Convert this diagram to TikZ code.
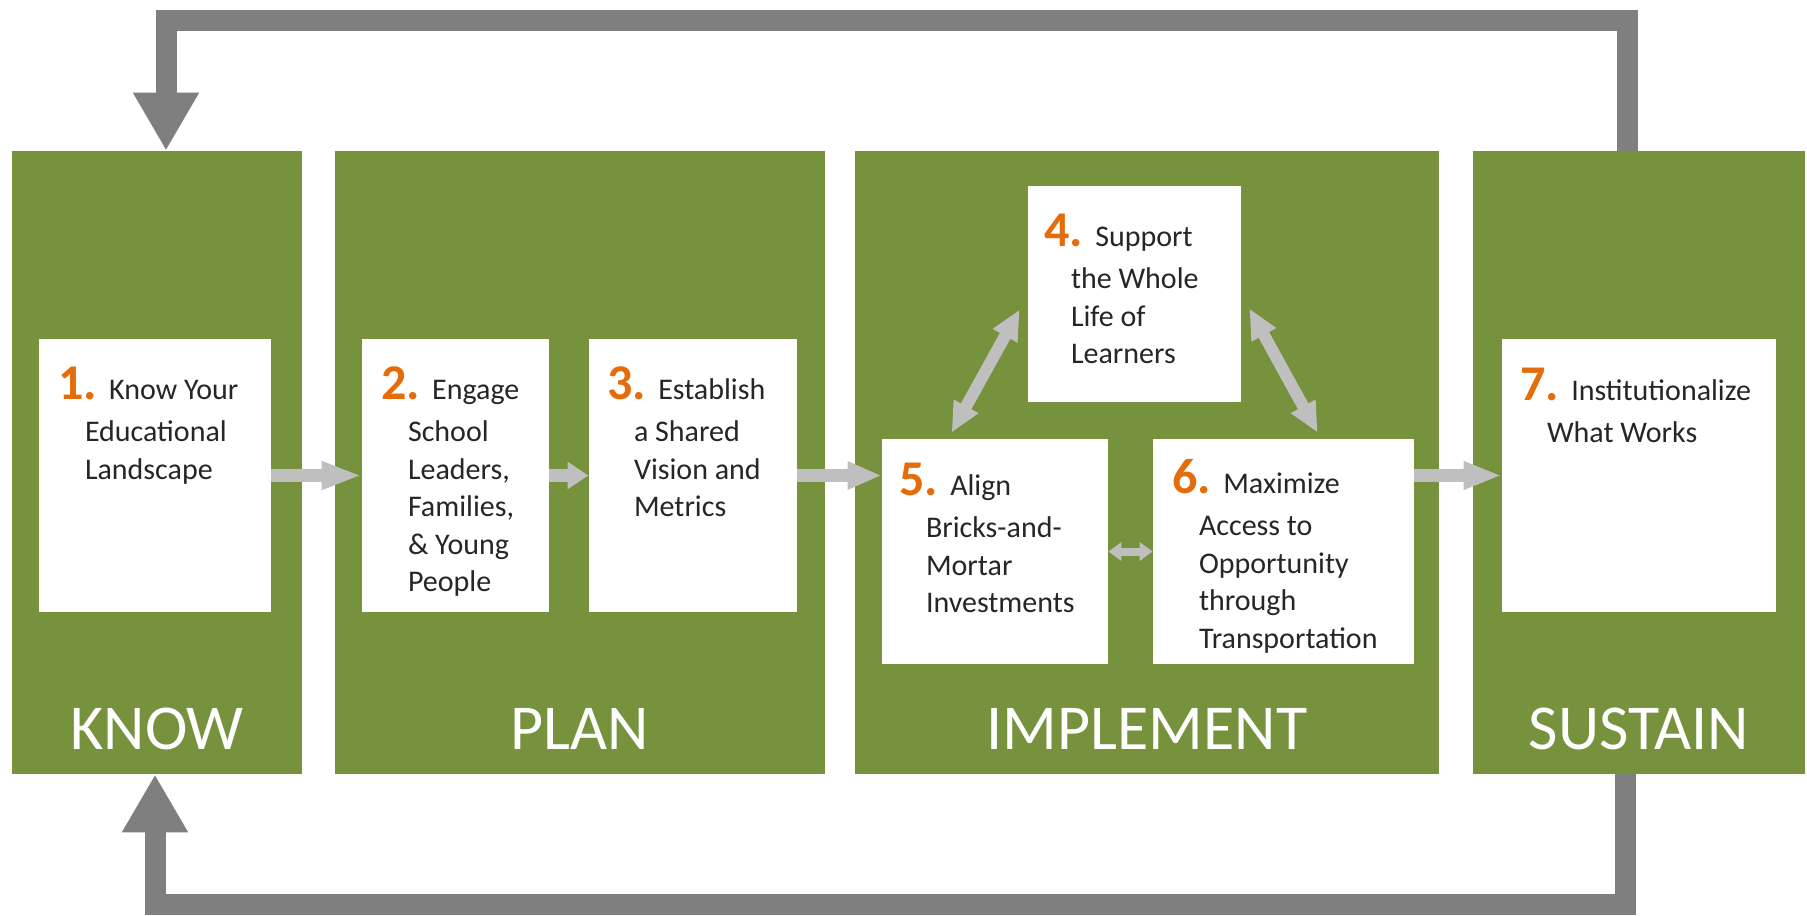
\documentclass[tikz,border=0pt]{standalone}
\usepackage{fontspec}
\setmainfont{Carlito}
\usepackage{tikz}
\usetikzlibrary{arrows.meta}
\definecolor{mgreen}{RGB}{118, 146, 60}
\definecolor{morange}{RGB}{228, 108, 10}
\definecolor{mgray}{RGB}{127, 127, 127}
\definecolor{mlight}{RGB}{191, 191, 191}
\definecolor{mtext}{RGB}{38, 38, 38}
\tikzset{panel/.style = {fill = mgreen, inner sep = 0}}
\tikzset{card/.style = {fill = white, inner sep = 0}}
\tikzset{phase/.style = {text = white, font = \fontsize{32pt}{32pt}\selectfont, inner sep = 0, anchor = base}}
\tikzset{steptext/.style = {text = mtext, font = \fontsize{15pt}{18.75pt}\selectfont, align = left, inner sep = 0, anchor = base west}}
\tikzset{flow/.style = {draw = mlight, line width = 6.5pt, -{Triangle[width = 13pt, length = #1]}}, flow/.default = 19pt}
\tikzset{twoway/.style = {draw = mlight, line width = 6pt, {Triangle[width = 13pt, length = 15pt]}-{Triangle[width = 13pt, length = 15pt]}}}
\tikzset{smallway/.style = {draw = mlight, line width = 4pt, {Triangle[width = 9pt, length = 6.5pt]}-{Triangle[width = 9pt, length = 6.5pt]}}}
\tikzset{fback/.style = {draw = mgray, line width = 10.5pt, line join = miter, -{Triangle[width = 31pt, length = 29pt]}}}
\newcommand{\stepno}[1]{\hspace*{-2pt}{\fontsize{25pt}{25pt}\selectfont\bfseries\color{morange}#1}\hspace{1.75pt}}
\newcommand{\ind}{\hspace*{11.5pt}}

\begin{document}
\begin{tikzpicture}[x = 0.5pt, y = -0.5pt]
           \fill [white] (0, 0) rectangle (1807, 915);
           \useasboundingbox (0, 0) rectangle (1807, 915);

           \node [panel, minimum width = 145pt, minimum height = 311.5pt] (know) at (157, 462.5) {};
           \node [panel, minimum width = 245pt, minimum height = 311.5pt] (plan) at (580, 462.5) {};
           \node [panel, minimum width = 292pt, minimum height = 311.5pt] (impl) at (1147, 462.5) {};
           \node [panel, minimum width = 166pt, minimum height = 311.5pt] (sust) at (1639, 462.5) {};

           \node [phase] (knowlbl) at (157, 749) {KNOW};
           \node [phase] (planlbl) at (580, 749) {PLAN};
           \node [phase] (impllbl) at (1147, 749) {IMPLEMENT};
           \node [phase] (sustlbl) at (1639, 749) {SUSTAIN};

           \coordinate (tl) at (166, 20.5);
           \coordinate (tr) at (1627, 20.5);
           \coordinate (bl) at (155, 904.5);
           \coordinate (br) at (1625, 904.5);
           \draw [fback] (sust.north -| tr) -- (tr) -- (tl) -- (know.north -| tl);
           \draw [fback] (sust.south -| br) -- (br) -- (bl) -- (know.south -| bl);

           \node [card, minimum width = 116pt, minimum height = 136.5pt] (box1) at (155, 475.5) {};
           \node [card, minimum width = 93.5pt, minimum height = 136.5pt] (box2) at (455.5, 475.5) {};
           \node [card, minimum width = 104pt, minimum height = 136.5pt] (box3) at (693, 475.5) {};
           \node [card, minimum width = 106.5pt, minimum height = 108pt] (box4) at (1134.5, 294) {};
           \node [card, minimum width = 113pt, minimum height = 112.5pt] (box5) at (995, 551.5) {};
           \node [card, minimum width = 130.5pt, minimum height = 112.5pt] (box6) at (1283.5, 551.5) {};
           \node [card, minimum width = 137pt, minimum height = 136.5pt] (box7) at (1639, 475.5) {};

           \draw [flow = 20pt] (box1) -- (box2);
           \draw [flow = 10.5pt] (box2) -- (box3);
           \draw [flow = 17pt] (box3.east) -- (box3.east -| box5.west);
           \draw [flow = 19pt] (box7.west -| box6.east) -- (box7.west);
           \draw [smallway] (box5) -- (box6);
           \draw [twoway] ([xshift = 35pt, yshift = 3pt] box5.north west) -- ([xshift = -4pt, yshift = -62pt] box4.north west);
           \draw [twoway] ([xshift = 4pt, yshift = -61.5pt] box4.north east) -- ([xshift = 82.5pt, yshift = 3pt] box6.north west);

           \node [steptext] (txt1) at ([xshift = 11.5pt, yshift = -70.25pt] box1.north west)
                {\stepno{1.} Know Your\\[2.25pt]\ind Educational\\\ind Landscape};
           \node [steptext] (txt2) at ([xshift = 11.5pt, yshift = -126.5pt] box2.north west)
                {\stepno{2.} Engage\\[2.25pt]\ind School\\\ind Leaders,\\\ind Families,\\\ind \& Young\\\ind People};
           \node [steptext] (txt3) at ([xshift = 11pt, yshift = -89pt] box3.north west)
                {\stepno{3.} Establish\\[2.25pt]\ind a Shared\\\ind Vision and\\\ind Metrics};
           \node [steptext] (txt4) at ([xshift = 10pt, yshift = -89pt] box4.north west)
                {\stepno{4.} Support\\[2.25pt]\ind the Whole\\\ind Life of\\\ind Learners};
           \node [steptext] (txt5) at ([xshift = 10.5pt, yshift = -87pt] box5.north west)
                {\stepno{5.} Align\\[2.25pt]\ind Bricks-and-\\\ind Mortar\\\ind Investments};
           \node [steptext] (txt6) at ([xshift = 11.5pt, yshift = -104.75pt] box6.north west)
                {\stepno{6.} Maximize\\[2.25pt]\ind Access to\\\ind Opportunity\\\ind through\\\ind Transportation};
           \node [steptext] (txt7) at ([xshift = 11pt, yshift = -52pt] box7.north west)
                {\stepno{7.} Institutionalize\\[2.25pt]\ind What Works};
         \end{tikzpicture}
\end{document}
